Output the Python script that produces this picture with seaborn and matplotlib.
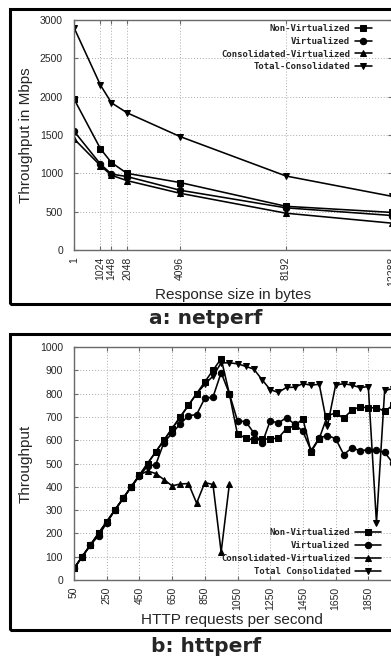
import matplotlib
matplotlib.use("Agg")
import matplotlib.pyplot as plt
import matplotlib.patches as mpatches
import seaborn as sns

# --- DATA ---
# (a) netperf
resp_sizes = [1, 1024, 1448, 2048, 4096, 8192, 12288]
net_nonvirt = [1970, 1320, 1140, 1000, 880, 570, 490]
net_virt = [1550, 1120, 990, 958, 780, 550, 450]
net_cons_virt = [1450, 1100, 975, 905, 740, 480, 350]
net_total = [2900, 2150, 1920, 1790, 1480, 965, 700]

# (b) httperf
http_rates = list(range(50, 2001, 50))
http_nonvirt = [50, 100, 150, 200, 250, 300, 350, 400, 450, 500,
                550, 600, 650, 700, 750, 800, 850, 900, 950, 800,
                625, 610, 600, 605, 605, 610, 650, 662, 692, 550,
                607, 705, 717, 695, 729, 744, 738, 740, 724, 750]
http_virt = [50, 100, 150, 190, 245, 300, 350, 400, 445, 490,
             495, 590, 630, 670, 705, 710, 780, 785, 890, 800,
             683, 680, 631, 586, 683, 674, 697, 668, 638, 555,
             610, 620, 607, 538, 568, 554, 560, 556, 548, 502]
http_cons_virt = [50, 100, 150, 200, 250, 300, 350, 400, 450, 468,
                  457, 431, 404, 412, 414, 330, 418, 410, 120, 410]
http_total = [50, 100, 150, 200, 250, 300, 350, 400, 450, 500,
              550, 600, 650, 700, 750, 800, 840, 875, 932, 932,
              928, 917, 905, 860, 817, 805, 827, 827, 843, 836,
              840, 660, 836, 843, 836, 826, 830, 245, 814, 821]
http_ticks = list(range(50, 1851, 200))

# --- AESTHETIC CONFIGURATION ---
W, H = 391, 658
sns.set_style("white")
plt.rcParams.update({
    'font.family': ['Liberation Sans', 'DejaVu Sans'],
    'axes.labelsize': 11,
    'xtick.labelsize': 7.5,
    'ytick.labelsize': 7.5,
})

LEGEND_FONT = {'family': 'DejaVu Sans Mono', 'weight': 'bold', 'size': 6.5}


def px_rect(left, top, right, bottom):
    return [left / W, 1 - bottom / H, (right - left) / W, (bottom - top) / H]


def style_axes(ax):
    ax.grid(True, color='#aaaaaa', linestyle=(0, (1, 2)), linewidth=0.7)
    for s in ax.spines.values():
        s.set_visible(True)
        s.set_color('#6a6a6a')
        s.set_linewidth(1.0)
    ax.tick_params(direction='in', length=3, width=0.8, color='#6a6a6a',
                   top=True, right=True, bottom=True, left=True)
    ax.tick_params(axis='y', pad=8)
    ax.tick_params(axis='x', pad=5)


def draw_series(ax, xs, series):
    for label, vals, mk in series:
        sns.lineplot(x=xs[:len(vals)], y=vals, marker=mk, color='black',
                     markersize=4.6, markeredgecolor='black', linewidth=1.15,
                     label=label, ax=ax)


fig = plt.figure(figsize=(W / 100, H / 100), dpi=100)

# --- (a) netperf ---
ax1 = fig.add_axes(px_rect(74, 20, 392, 250))
draw_series(ax1, resp_sizes, [
    ('Non-Virtualized', net_nonvirt, 's'),
    ('Virtualized', net_virt, 'o'),
    ('Consolidated-Virtualized', net_cons_virt, '^'),
    ('Total-Consolidated', net_total, 'v'),
])
ax1.set_xlim(1, 12288)
ax1.set_ylim(0, 3000)
ax1.set_xticks(resp_sizes)
ax1.set_xticklabels([str(v) for v in resp_sizes], rotation=90)
ax1.set_yticks(range(0, 3001, 500))
style_axes(ax1)
ax1.set_xlabel('Response size in bytes')
ax1.set_ylabel('Throughput in Mbps')
ax1.xaxis.set_label_coords(0.5, -0.165)
ax1.yaxis.set_label_coords(-0.13, 0.5)
h, l = ax1.get_legend_handles_labels()
ax1.legend(h, l, loc='upper right', bbox_to_anchor=(372 / W, 1 - 24 / H),
           bbox_transform=fig.transFigure, frameon=False, markerfirst=False,
           borderpad=0, borderaxespad=0, handlelength=1.9, handletextpad=0.5,
           labelspacing=0.42, prop=LEGEND_FONT)

# --- (b) httperf ---
ax2 = fig.add_axes(px_rect(74, 347, 401, 580))
draw_series(ax2, http_rates, [
    ('Non-Virtualized', http_nonvirt, 's'),
    ('Virtualized', http_virt, 'o'),
    ('Consolidated-Virtualized', http_cons_virt, '^'),
    ('Total Consolidated', http_total, 'v'),
])
ax2.set_xlim(50, 2050)
ax2.set_ylim(0, 1000)
ax2.set_xticks(http_ticks)
ax2.tick_params(axis='x', labelrotation=90)
ax2.set_yticks(range(0, 1001, 100))
style_axes(ax2)
ax2.set_xlabel('HTTP requests per second')
ax2.set_ylabel('Throughput')
ax2.xaxis.set_label_coords(0.483, -0.14)
ax2.yaxis.set_label_coords(-0.126, 0.5)
h, l = ax2.get_legend_handles_labels()
ax2.legend(h, l, loc='upper right', bbox_to_anchor=(381 / W, 1 - 528 / H),
           bbox_transform=fig.transFigure, frameon=False, markerfirst=False,
           borderpad=0, borderaxespad=0, handlelength=2.9, handletextpad=0.5,
           labelspacing=0.45, prop=LEGEND_FONT)

# --- panel frames and captions ---
for top, bottom in [(9, 304), (334, 630)]:
    fig.add_artist(mpatches.Rectangle((10 / W, 1 - bottom / H), 420 / W, (bottom - top) / H,
                                      transform=fig.transFigure, fill=False,
                                      edgecolor='black', linewidth=2.2))

fig.text(206 / W, 1 - 319 / H, 'a: netperf', ha='center', va='center',
         fontsize=14.5, fontweight='bold', family='DejaVu Sans')
fig.text(206 / W, 1 - 646 / H, 'b: httperf', ha='center', va='center',
         fontsize=14.5, fontweight='bold', family='DejaVu Sans')

fig.savefig('out.png', dpi=100)
